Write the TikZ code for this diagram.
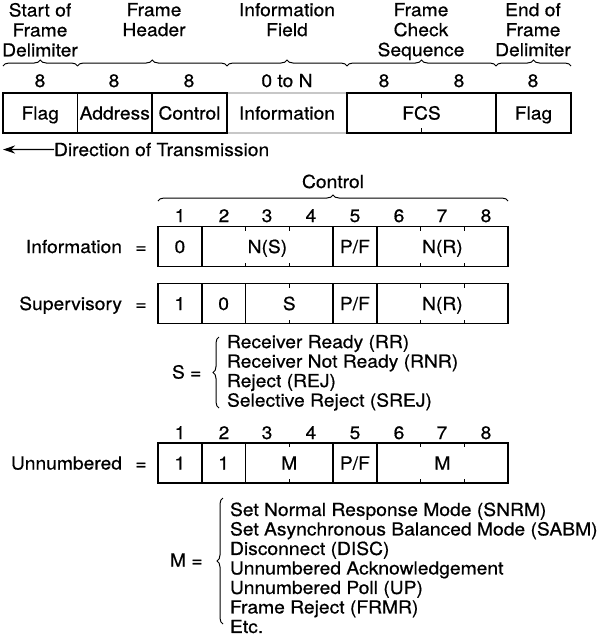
\documentclass[tikz,border=0pt]{standalone}
\usepackage{fontspec}
\setmainfont[FakeStretch=1.07,FakeBold=0.6]{TeX Gyre Heros}
\usetikzlibrary{decorations.pathreplacing,arrows.meta}
\begin{document}
\begin{tikzpicture}[x=1pt,y=-1pt,
  every node/.style={font=\fontsize{18}{20}\selectfont, inner sep=0pt, outer sep=0pt},
  lbl/.style={anchor=base},
  hdr/.style={anchor=north, align=center},
  lst/.style={anchor=north west, align=left, font=\fontsize{18}{19.5}\selectfont},
  cell/.style={draw=black, line width=1.5pt, minimum height=40pt, text height=13pt, text depth=0pt},
  plain/.style={minimum height=40pt, text height=13pt, text depth=0pt},
  tick/.style={line width=1.5pt},
  brc/.style={decorate, decoration={brace, amplitude=6pt}, line width=1pt},
  grayline/.style={draw=black!22, line width=1.5pt},
]
\useasboundingbox (0,0) rectangle (600,641);

% ---------- top frame ----------
\node[hdr] (h1) at (40,3) {Start of\\Frame\\Delimiter};
\node[hdr] (h2) at (154,3) {Frame\\Header};
\node[hdr] (h3) at (287,3) {Information\\Field};
\node[hdr] (h4) at (421,3) {Frame\\Check\\Sequence};
\node[hdr] (h5) at (533,3) {End of\\Frame\\Delimiter};

\draw[brc] (3,66) -- (77.5,66);
\draw[brc] (77.5,66) -- (227,66);
\draw[brc] (227,66) -- (347,66);
\draw[brc] (347,66) -- (496,66);
\draw[brc] (496,66) -- (571,66);

\node[lbl] (n1) at (40,87) {8};
\node[lbl] (n2) at (114,87) {8};
\node[lbl] (n3) at (189,87) {8};
\node[lbl] (n4) at (287,87) {0 to N};
\node[lbl] (n5) at (384,87) {8};
\node[lbl] (n6) at (459,87) {8};
\node[lbl] (n7) at (533,87) {8};

\node[plain, minimum width=120pt] (info) at (287,113) {Information};
\draw[grayline] (info.north west) -- (info.north east);
\draw[grayline] (info.south west) -- (info.south east);
\node[cell, minimum width=74.5pt] (flag1) at (40.25,113) {Flag};
\node[cell, minimum width=74.5pt] (addr) at (114.75,113) {Address};
\node[cell, minimum width=75pt] (ctrl) at (189.5,113) {Control};
\node[cell, minimum width=149pt] (fcs) at (421.5,113) {FCS};
\node[cell, minimum width=75pt] (flag2) at (533.5,113) {Flag};
\draw[tick] (fcs.north) -- ++(0,5);
\draw[tick] (fcs.south) -- ++(0,-5);

\node[lbl, anchor=base west] (dir) at (54,156) {Direction of Transmission};
\coordinate (dirend) at (3,149.5);
\draw[line width=1.2pt, -{Stealth[length=12pt,width=8pt]}] (dir.west) -- (dirend);

% ---------- control field ----------
\node[lbl] (ctl) at (333,188) {Control};
\draw[brc] (158,201) -- (508,201);

\foreach \i/\x in {1/180,2/224,3/267,4/311,5/355,6/399,7/442,8/486}{
  \node[lbl] (ba\i) at (\x,222) {\i};
}

% Information row
\node[lbl, anchor=base east] (linfo) at (122,253) {Information};
\node[lbl] (eq1) at (141,253) {=};
\node[cell, minimum width=43.75pt] (i1) at (179.875,246.5) {0};
\node[cell, minimum width=131.25pt] (i2) at (267.375,246.5) {N(S)};
\node[cell, minimum width=43.75pt] (i3) at (354.875,246.5) {P/F};
\node[cell, minimum width=131.25pt] (i4) at (442.375,246.5) {N(R)};
\foreach \x in {245.5,289.25,420.5,464.25}{
  \draw[tick] (\x,226.5) -- ++(0,4);
  \draw[tick] (\x,266.5) -- ++(0,-4);
}

% Supervisory row
\node[lbl, anchor=base east] (lsup) at (122,310) {Supervisory};
\node[lbl] (eq2) at (141,310) {=};
\node[cell, minimum width=43.75pt] (s1) at (179.875,303.5) {1};
\node[cell, minimum width=43.75pt] (s2) at (223.625,303.5) {0};
\node[cell, minimum width=87.5pt] (s3) at (289.25,303.5) {S};
\node[cell, minimum width=43.75pt] (s4) at (354.875,303.5) {P/F};
\node[cell, minimum width=131.25pt] (s5) at (442.375,303.5) {N(R)};
\foreach \x in {289.25,420.5,464.25}{
  \draw[tick] (\x,283.5) -- ++(0,4);
  \draw[tick] (\x,323.5) -- ++(0,-4);
}

\node[lbl, anchor=base west] (seq) at (172,378.5) {S =};
\draw[brc] (219,408) -- (219,337);
\node[lst] (slist) at (227,335) {Receiver Ready (RR)\\Receiver Not Ready (RNR)\\Reject (REJ)\\Selective Reject (SREJ)};

% Unnumbered row
\foreach \i/\x in {1/180,2/224,3/267,4/311,5/355,6/399,7/442,8/486}{
  \node[lbl] (bb\i) at (\x,439) {\i};
}
\node[lbl, anchor=base east] (lun) at (122,469.5) {Unnumbered};
\node[lbl] (eq3) at (141,469.5) {=};
\node[cell, minimum width=43.75pt] (u1) at (179.875,463) {1};
\node[cell, minimum width=43.75pt] (u2) at (223.625,463) {1};
\node[cell, minimum width=87.5pt] (u3) at (289.25,463) {M};
\node[cell, minimum width=43.75pt] (u4) at (354.875,463) {P/F};
\node[cell, minimum width=131.25pt] (u5) at (442.375,463) {M};
\foreach \x in {289.25,420.5,464.25}{
  \draw[tick] (\x,443) -- ++(0,4);
  \draw[tick] (\x,483) -- ++(0,-4);
}

\node[lbl, anchor=base west] (meq) at (170,566.5) {M =};
\draw[brc] (223,624) -- (223,498);
\node[lst] (mlist) at (230,502.5) {Set Normal Response Mode (SNRM)\\Set Asynchronous Balanced Mode (SABM)\\Disconnect (DISC)\\Unnumbered Acknowledgement\\Unnumbered Poll (UP)\\Frame Reject (FRMR)\\Etc.};
\end{tikzpicture}
\end{document}
